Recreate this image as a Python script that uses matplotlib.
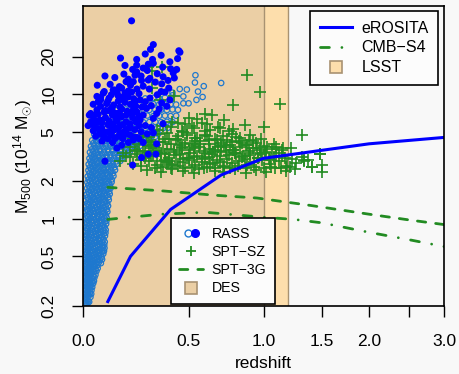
import numpy as np
import matplotlib
matplotlib.use('Agg')
import matplotlib.pyplot as plt
from matplotlib.lines import Line2D
from matplotlib.legend_handler import HandlerTuple
from matplotlib.ticker import NullLocator

plt.rcParams['font.family'] = ['Liberation Sans', 'DejaVu Sans']
plt.rcParams['mathtext.fontset'] = 'custom'
plt.rcParams['mathtext.rm'] = 'Liberation Sans'
plt.rcParams['mathtext.it'] = 'Liberation Sans:italic'

# RASS, open circles (flux-limited band)
rass_open_z = [
    0.005, 0.011, 0.017, 0.024,
    0.004, 0.010, 0.016, 0.022, 0.029,
    0.006, 0.012, 0.019, 0.026, 0.033,
    0.005, 0.011, 0.018, 0.025, 0.032, 0.040,
    0.007, 0.013, 0.020, 0.028, 0.036, 0.045,
    0.005, 0.012, 0.019, 0.027, 0.035, 0.044, 0.053,
    0.007, 0.014, 0.022, 0.030, 0.039, 0.048, 0.058,
    0.006, 0.013, 0.021, 0.029, 0.038, 0.047, 0.057, 0.067, 0.076,
    0.008, 0.016, 0.024, 0.033, 0.042, 0.052, 0.062, 0.072, 0.081,
    0.006, 0.013, 0.021, 0.030, 0.040, 0.050, 0.060, 0.070, 0.079, 0.086,
    0.008, 0.016, 0.025, 0.035, 0.045, 0.055, 0.066, 0.077, 0.087,
    0.006, 0.014, 0.023, 0.033, 0.043, 0.054, 0.065, 0.076, 0.088,
    0.010, 0.018, 0.028, 0.038, 0.049, 0.060, 0.071, 0.082, 0.091,
    0.008, 0.016, 0.026, 0.036, 0.047, 0.058, 0.069, 0.080, 0.093,
    0.011, 0.020, 0.030, 0.041, 0.052, 0.063, 0.075, 0.086, 0.095,
    0.009, 0.018, 0.028, 0.039, 0.050, 0.062, 0.074, 0.086, 0.098,
    0.013, 0.022, 0.032, 0.043, 0.055, 0.067, 0.079, 0.091, 0.101,
    0.012, 0.021, 0.031, 0.042, 0.054, 0.066, 0.078, 0.090, 0.104,
    0.014, 0.024, 0.035, 0.047, 0.059, 0.071, 0.083, 0.096, 0.108,
    0.016, 0.026, 0.037, 0.049, 0.062, 0.075, 0.088, 0.100, 0.112,
    0.017, 0.027, 0.039, 0.052, 0.065, 0.078, 0.091, 0.104, 0.116,
    0.018, 0.029, 0.041, 0.054, 0.068, 0.082, 0.096, 0.110, 0.124,
    0.021, 0.032, 0.045, 0.058, 0.072, 0.086, 0.100, 0.115, 0.131,
    0.022, 0.034, 0.047, 0.061, 0.076, 0.091, 0.106, 0.121, 0.138,
    0.025, 0.037, 0.050, 0.065, 0.080, 0.096, 0.112, 0.128, 0.146, 0.162,
    0.027, 0.040, 0.054, 0.069, 0.085, 0.102, 0.119, 0.137, 0.156, 0.176, 0.196,
    0.031, 0.044, 0.059, 0.075, 0.092, 0.110, 0.128, 0.147, 0.167, 0.190, 0.215, 0.245,
    0.036, 0.050, 0.066, 0.083, 0.101, 0.120, 0.140, 0.160, 0.182, 0.205, 0.230, 0.260, 0.290,
    0.044, 0.060, 0.078, 0.097, 0.117, 0.138, 0.160, 0.183, 0.207, 0.230, 0.255, 0.280, 0.310, 0.335,
    0.055, 0.074, 0.095, 0.117, 0.140, 0.164, 0.189, 0.215, 0.240, 0.270, 0.300, 0.330, 0.360, 0.385,
    0.070, 0.095, 0.120, 0.145, 0.170, 0.200, 0.230, 0.260, 0.290, 0.320, 0.350, 0.380, 0.410,
    0.100, 0.130, 0.160, 0.190, 0.220, 0.250, 0.280, 0.310, 0.340, 0.370, 0.400, 0.430,
    0.140, 0.180, 0.220, 0.260, 0.290, 0.320, 0.350, 0.380, 0.410, 0.440,
    0.200, 0.240, 0.280, 0.310, 0.340, 0.370, 0.400, 0.430, 0.470,
    0.270, 0.310, 0.340, 0.370, 0.410, 0.470, 0.500, 0.546, 0.583,
    0.450, 0.490, 0.537, 0.540, 0.555, 0.590, 0.700, 0.410,
    # in-between rows
    0.008, 0.014, 0.020,
    0.007, 0.013, 0.019, 0.026, 0.032,
    0.009, 0.015, 0.022, 0.029, 0.036,
    0.008, 0.015, 0.022, 0.029, 0.036, 0.043,
    0.010, 0.017, 0.024, 0.032, 0.040, 0.049,
    0.009, 0.016, 0.023, 0.031, 0.040, 0.049, 0.058,
    0.010, 0.018, 0.026, 0.034, 0.043, 0.053, 0.063, 0.071,
    0.010, 0.018, 0.026, 0.035, 0.044, 0.054, 0.064, 0.074,
    0.011, 0.019, 0.028, 0.037, 0.047, 0.057, 0.067, 0.077, 0.084,
    0.010, 0.018, 0.027, 0.036, 0.046, 0.056, 0.066, 0.076, 0.085,
    0.011, 0.020, 0.029, 0.039, 0.049, 0.060, 0.071, 0.082,
    0.009, 0.019, 0.029, 0.039, 0.050, 0.061, 0.072, 0.083, 0.090,
    0.013, 0.022, 0.032, 0.043, 0.054, 0.065, 0.076, 0.087,
    0.012, 0.021, 0.031, 0.042, 0.053, 0.064, 0.075, 0.087, 0.094,
    0.014, 0.024, 0.035, 0.046, 0.057, 0.068, 0.080, 0.092,
    0.016, 0.025, 0.036, 0.048, 0.060, 0.072, 0.085, 0.096,
    0.017, 0.027, 0.038, 0.049, 0.061, 0.073, 0.085, 0.097,
    0.018, 0.029, 0.041, 0.053, 0.065, 0.077, 0.090, 0.102,
    0.020, 0.031, 0.043, 0.055, 0.068, 0.081, 0.094, 0.106,
    0.021, 0.032, 0.044, 0.057, 0.070, 0.083, 0.097, 0.109,
    0.022, 0.034, 0.047, 0.060, 0.073, 0.087, 0.101, 0.117,
    0.025, 0.037, 0.050, 0.064, 0.078, 0.092, 0.107, 0.122,
    0.027, 0.040, 0.053, 0.067, 0.082, 0.097, 0.112, 0.128,
    0.029, 0.042, 0.056, 0.071, 0.087, 0.103, 0.120, 0.137, 0.154,
    0.032, 0.045, 0.060, 0.076, 0.093, 0.110, 0.128, 0.146, 0.166, 0.186,
    0.035, 0.050, 0.066, 0.083, 0.100, 0.119, 0.138, 0.158, 0.180, 0.203, 0.230,
    0.040, 0.056, 0.073, 0.091, 0.110, 0.130, 0.150, 0.171, 0.194, 0.218, 0.245, 0.275,
    0.050, 0.068, 0.087, 0.107, 0.128, 0.150, 0.172, 0.195, 0.219, 0.243, 0.268, 0.295, 0.320,
]
rass_open_m = [
    0.208, 0.213, 0.210, 0.216,
    0.232, 0.238, 0.235, 0.241, 0.236,
    0.262, 0.268, 0.265, 0.271, 0.267,
    0.297, 0.303, 0.300, 0.306, 0.298, 0.304,
    0.332, 0.338, 0.335, 0.341, 0.333, 0.339,
    0.370, 0.378, 0.374, 0.380, 0.372, 0.377, 0.381,
    0.415, 0.423, 0.419, 0.425, 0.417, 0.421, 0.426,
    0.465, 0.472, 0.468, 0.474, 0.466, 0.471, 0.475, 0.469, 0.473,
    0.518, 0.526, 0.521, 0.528, 0.519, 0.524, 0.529, 0.520, 0.525,
    0.580, 0.589, 0.583, 0.591, 0.582, 0.587, 0.592, 0.581, 0.588, 0.584,
    0.645, 0.656, 0.649, 0.658, 0.647, 0.653, 0.659, 0.648, 0.654,
    0.722, 0.733, 0.726, 0.736, 0.724, 0.731, 0.737, 0.725, 0.730,
    0.806, 0.818, 0.810, 0.821, 0.807, 0.815, 0.822, 0.809, 0.816,
    0.902, 0.915, 0.906, 0.918, 0.903, 0.911, 0.919, 0.905, 0.912,
    1.010, 1.025, 1.015, 1.030, 1.012, 1.022, 1.030, 1.014, 1.020,
    1.130, 1.145, 1.135, 1.150, 1.132, 1.142, 1.150, 1.134, 1.140,
    1.260, 1.278, 1.265, 1.282, 1.262, 1.272, 1.280, 1.264, 1.270,
    1.410, 1.430, 1.415, 1.432, 1.412, 1.422, 1.430, 1.414, 1.420,
    1.570, 1.590, 1.575, 1.592, 1.572, 1.582, 1.590, 1.574, 1.580,
    1.760, 1.780, 1.765, 1.782, 1.762, 1.772, 1.780, 1.764, 1.770,
    1.960, 1.985, 1.965, 1.990, 1.962, 1.975, 1.985, 1.966, 1.972,
    2.190, 2.220, 2.200, 2.225, 2.195, 2.210, 2.222, 2.198, 2.206,
    2.450, 2.480, 2.455, 2.485, 2.452, 2.468, 2.480, 2.456, 2.465,
    2.740, 2.770, 2.745, 2.775, 2.742, 2.758, 2.770, 2.746, 2.755,
    3.060, 3.090, 3.065, 3.095, 3.062, 3.078, 3.090, 3.066, 3.075, 3.085,
    3.420, 3.460, 3.430, 3.465, 3.425, 3.445, 3.460, 3.432, 3.440, 3.455, 3.430,
    3.820, 3.860, 3.830, 3.865, 3.825, 3.845, 3.860, 3.832, 3.840, 3.855, 3.830, 3.850,
    4.270, 4.310, 4.280, 4.315, 4.275, 4.295, 4.310, 4.280, 4.290, 4.305, 4.280, 4.300, 4.285,
    4.770, 4.820, 4.780, 4.825, 4.775, 4.800, 4.820, 4.782, 4.790, 4.810, 4.780, 4.800, 4.790, 4.810,
    5.320, 5.380, 5.330, 5.385, 5.325, 5.355, 5.380, 5.335, 5.350, 5.370, 5.340, 5.360, 5.345, 5.370,
    5.950, 6.020, 5.960, 6.030, 5.955, 5.990, 6.020, 5.965, 5.980, 6.000, 5.970, 6.010, 5.975,
    6.660, 6.740, 6.670, 6.750, 6.665, 6.700, 6.740, 6.675, 6.710, 6.730, 6.680, 6.720,
    7.450, 7.550, 7.460, 7.540, 7.470, 7.520, 7.500, 7.460, 7.540, 7.490,
    8.250, 8.360, 8.270, 8.350, 8.280, 8.320, 8.300, 8.260, 8.450,
    9.250, 9.350, 9.280, 9.400, 9.800, 9.600, 8.450, 9.000, 9.500,
    11.00, 10.90, 12.40, 14.20, 10.50, 11.60, 12.30, 10.30,
    # in-between rows
    0.221, 0.224, 0.220,
    0.249, 0.252, 0.248, 0.253, 0.250,
    0.281, 0.285, 0.282, 0.286, 0.283,
    0.315, 0.319, 0.316, 0.320, 0.314, 0.318,
    0.352, 0.357, 0.353, 0.358, 0.351, 0.356,
    0.394, 0.399, 0.395, 0.400, 0.393, 0.397, 0.401,
    0.440, 0.446, 0.442, 0.447, 0.439, 0.444, 0.448, 0.441,
    0.492, 0.498, 0.494, 0.499, 0.491, 0.496, 0.500, 0.493,
    0.549, 0.556, 0.551, 0.557, 0.548, 0.554, 0.558, 0.550, 0.553,
    0.612, 0.620, 0.614, 0.621, 0.611, 0.617, 0.622, 0.613, 0.618,
    0.685, 0.693, 0.687, 0.694, 0.684, 0.690, 0.695, 0.686,
    0.765, 0.775, 0.768, 0.776, 0.764, 0.771, 0.777, 0.766, 0.772,
    0.855, 0.866, 0.858, 0.867, 0.854, 0.861, 0.868, 0.856,
    0.955, 0.967, 0.958, 0.968, 0.954, 0.962, 0.969, 0.956, 0.963,
    1.068, 1.082, 1.071, 1.083, 1.067, 1.076, 1.084, 1.069,
    1.193, 1.208, 1.196, 1.209, 1.192, 1.202, 1.210, 1.194,
    1.332, 1.349, 1.336, 1.350, 1.331, 1.342, 1.351, 1.334,
    1.490, 1.510, 1.494, 1.511, 1.489, 1.501, 1.512, 1.492,
    1.660, 1.682, 1.665, 1.683, 1.659, 1.672, 1.684, 1.662,
    1.860, 1.884, 1.865, 1.885, 1.858, 1.872, 1.886, 1.862,
    2.070, 2.096, 2.075, 2.097, 2.068, 2.084, 2.098, 2.072,
    2.320, 2.348, 2.325, 2.349, 2.318, 2.335, 2.350, 2.322,
    2.590, 2.622, 2.596, 2.623, 2.588, 2.607, 2.624, 2.592,
    2.890, 2.925, 2.896, 2.926, 2.888, 2.908, 2.927, 2.893, 2.915,
    3.240, 3.280, 3.246, 3.281, 3.238, 3.260, 3.282, 3.243, 3.268, 3.252,
    3.620, 3.665, 3.627, 3.666, 3.618, 3.643, 3.667, 3.624, 3.652, 3.634, 3.660,
    4.040, 4.090, 4.048, 4.091, 4.038, 4.066, 4.092, 4.044, 4.075, 4.056, 4.085, 4.050,
    4.520, 4.575, 4.528, 4.576, 4.518, 4.549, 4.577, 4.524, 4.560, 4.538, 4.570, 4.530, 4.555,
]

# SPT-SZ clusters
spt_z = [
    0.28, 0.35, 0.41, 0.47, 0.53, 0.59, 0.66, 0.72, 0.79, 0.87, 0.94, 1.02, 1.09, 1.18, 1.26,
    0.21, 0.25, 0.29, 0.33, 0.37, 0.41, 0.45, 0.50, 0.54, 0.58, 0.63, 0.67, 0.72, 0.77, 0.82,
    0.88, 0.93, 0.99, 1.05, 1.12, 1.19, 1.27, 1.34, 1.41,
    0.20, 0.23, 0.27, 0.31, 0.35, 0.39, 0.43, 0.47, 0.51, 0.55, 0.60, 0.64, 0.69, 0.74, 0.79,
    0.84, 0.90, 0.96, 1.02, 1.08, 1.15, 1.23, 1.32, 1.48,
    0.22, 0.26, 0.30, 0.34, 0.38, 0.42, 0.46, 0.50, 0.54, 0.59, 0.63, 0.68, 0.73, 0.78, 0.83,
    0.89, 0.95, 1.01, 1.07, 1.15, 1.22,
    0.24, 0.28, 0.32, 0.36, 0.40, 0.44, 0.48, 0.53, 0.57, 0.62, 0.67, 0.72, 0.77, 0.82, 0.88,
    0.94, 1.00, 1.08,
    0.29, 0.34, 0.39, 0.44, 0.49, 0.54, 0.60, 0.66, 0.71, 0.77, 0.83, 0.90,
    0.33, 0.40, 0.47, 0.53, 0.60, 0.68, 0.75, 0.86, 1.00,
    0.31, 0.37, 0.43, 0.49, 0.56, 0.62, 0.70, 0.76, 0.85, 0.92, 0.98,
    0.27, 0.35, 0.45, 0.52, 0.58, 0.66, 0.74, 0.80, 0.87, 1.04, 1.12,
    0.26, 0.30, 0.34, 0.38, 0.42, 0.46, 0.50, 0.55, 0.60, 0.65, 0.70, 0.75, 0.80, 0.86, 0.92,
    0.98, 1.05,
    0.25, 0.29, 0.33, 0.37, 0.41, 0.45, 0.49, 0.53, 0.57, 0.61, 0.65, 0.69, 0.73, 0.78, 0.84,
    0.90, 0.96, 1.03, 1.10,
    0.32, 0.36, 0.40, 0.44, 0.48, 0.52, 0.56, 0.61, 0.66, 0.71, 0.76, 0.81, 0.87, 0.93, 1.00,
    1.06, 1.14, 1.21,
    0.23, 0.30, 0.39, 0.46, 0.54, 0.62, 0.70, 0.79, 0.89, 0.97, 1.10, 1.17,
    0.36, 0.44, 0.52, 0.61, 0.69, 0.78, 0.55, 0.63, 0.48, 0.38,
    0.41, 0.50, 0.58, 0.64, 0.72, 0.597, 0.781, 1.13, 0.973, 0.874, 1.315,
    0.285, 0.353, 0.302, 0.416, 0.345, 0.303,
    1.155, 1.18, 1.375, 1.41, 1.50, 1.50, 1.48, 1.34,
    0.153, 0.167, 0.198, 0.18, 0.21,
]
spt_m = [
    2.45, 2.36, 2.52, 2.41, 2.33, 2.55, 2.43, 2.37, 2.50, 2.34, 2.47, 2.39, 2.56, 2.42, 2.50,
    2.78, 2.65, 2.90, 2.72, 2.96, 2.68, 2.84, 2.98, 2.70, 2.88, 2.75, 2.95, 2.66, 2.82, 2.93,
    2.71, 2.86, 2.99, 2.74, 2.90, 2.67, 2.83, 2.97, 2.62,
    3.15, 3.32, 3.05, 3.25, 3.38, 3.10, 3.28, 3.02, 3.36, 3.18, 3.06, 3.30, 3.20, 3.04, 3.35,
    3.12, 3.26, 3.08, 3.37, 3.14, 3.22, 3.03, 3.12, 3.30,
    3.60, 3.45, 3.72, 3.52, 3.66, 3.42, 3.78, 3.55, 3.70, 3.48, 3.63, 3.76, 3.44, 3.58, 3.74,
    3.50, 3.68, 3.46, 3.62, 3.56, 3.70,
    4.00, 4.22, 3.88, 4.12, 3.95, 4.26, 4.05, 3.85, 4.18, 3.98, 4.28, 3.90, 4.10, 4.20, 3.93,
    4.08, 3.86, 4.02,
    4.50, 4.78, 4.40, 4.65, 4.85, 4.45, 4.70, 4.36, 4.60, 4.82, 4.48, 4.68,
    5.20, 5.45, 5.00, 5.35, 5.10, 5.50, 5.05, 5.66, 5.50,
    3.90, 3.30, 4.40, 3.10, 3.80, 4.30, 3.50, 3.90, 3.20, 3.70, 4.40,
    3.50, 2.90, 3.30, 4.00, 3.00, 3.60, 4.30, 3.30, 3.90, 3.00, 3.40,
    4.60, 3.20, 4.10, 2.85, 3.55, 5.10, 3.05, 4.45, 3.35, 2.80, 4.05, 3.25, 4.55, 3.00, 4.20,
    3.30, 2.95,
    2.95, 3.85, 3.40, 4.35, 2.75, 3.90, 4.70, 3.15, 3.95, 4.60, 3.45, 2.88, 3.80, 3.60, 4.05,
    3.40, 3.05, 3.75, 3.20,
    2.58, 2.62, 2.55, 2.64, 2.57, 2.61, 2.53, 2.63, 2.56, 2.60, 2.54, 2.65, 2.58, 2.62, 2.55,
    2.60, 2.57, 2.63,
    3.48, 4.15, 2.92, 3.68, 4.25, 3.15, 3.85, 3.35, 4.30, 3.55, 3.80, 3.10,
    5.60, 5.90, 5.55, 5.80, 5.35, 5.25, 6.30, 5.15, 5.75, 4.90,
    6.00, 6.40, 5.90, 6.80, 6.20, 7.00, 8.20, 8.30, 10.5, 14.2, 4.70,
    16.6, 16.6, 11.2, 9.70, 9.00, 15.4,
    3.70, 2.60, 2.97, 2.60, 2.38, 2.71, 3.30, 2.90,
    2.90, 3.40, 3.80, 3.20, 4.40,
]

# RASS, filled circles
rass_fill_z = [
    0.205, 0.296, 0.445, 0.451, 0.229, 0.306, 0.438, 0.229, 0.285, 0.310, 0.396, 0.358,
    0.433, 0.229, 0.414, 0.221, 0.088, 0.293, 0.386, 0.0565, 0.180, 0.213, 0.252, 0.285,
    0.353, 0.123, 0.081, 0.070, 0.167, 0.245, 0.293, 0.353, 0.396, 0.0245, 0.054, 0.117,
    0.153, 0.213, 0.276, 0.327, 0.0675, 0.123, 0.198, 0.245, 0.310, 0.360, 0.081, 0.153,
    0.229, 0.310, 0.213, 0.327, 0.252, 0.285, 0.323, 0.088, 0.210, 0.139, 0.0757,
    0.045, 0.060, 0.075, 0.090, 0.100, 0.110, 0.120, 0.130, 0.140, 0.150, 0.160, 0.170,
    0.180, 0.190, 0.200, 0.210, 0.220, 0.230, 0.240, 0.260, 0.050, 0.065, 0.085, 0.100,
    0.115, 0.130, 0.145, 0.165, 0.185, 0.035, 0.040, 0.055, 0.070, 0.085, 0.095, 0.105,
    0.125, 0.135, 0.145, 0.160, 0.175, 0.185, 0.200, 0.215, 0.225, 0.240, 0.255, 0.270,
    0.140, 0.160, 0.190, 0.200, 0.230, 0.260, 0.105, 0.060, 0.030, 0.020, 0.040, 0.120,
    0.160, 0.190, 0.250, 0.270, 0.300, 0.300, 0.330, 0.340, 0.370, 0.380, 0.390, 0.280,
    0.330, 0.360, 0.260, 0.400, 0.420, 0.350, 0.270, 0.310,
    0.030, 0.045, 0.060, 0.075, 0.090, 0.105, 0.120, 0.135, 0.150, 0.165, 0.180, 0.195,
    0.210, 0.225, 0.240,
    0.040, 0.055, 0.070, 0.085, 0.100, 0.115, 0.130, 0.145, 0.160, 0.175, 0.190, 0.205, 0.220,
    0.060, 0.080, 0.100, 0.120, 0.140, 0.160, 0.180, 0.200, 0.220, 0.240, 0.260, 0.280,
    0.110, 0.130, 0.150, 0.170, 0.190, 0.210, 0.250, 0.290, 0.320, 0.350, 0.175, 0.155,
]
rass_fill_m = [
    38.8, 22.9, 22.3, 21.7, 19.0, 19.0, 19.3, 17.1, 17.4, 17.7, 18.2, 16.5,
    15.8, 15.1, 14.8, 14.2, 14.0, 13.4, 12.9, 11.8, 12.6, 12.6, 12.9, 13.0,
    12.1, 10.8, 10.2, 9.40, 9.50, 9.00, 9.30, 8.50, 9.00, 6.80, 7.00, 7.80,
    7.90, 7.50, 7.70, 7.00, 6.20, 5.80, 5.80, 6.20, 6.40, 5.80, 5.00, 4.90,
    4.50, 4.90, 4.30, 4.00, 3.10, 3.30, 3.30, 2.90, 2.70, 3.70, 4.20,
    5.50, 6.00, 5.30, 6.50, 5.00, 5.60, 6.80, 5.20, 6.10, 5.50, 6.60, 5.00,
    6.00, 7.00, 5.40, 6.50, 5.20, 7.20, 5.60, 6.80, 4.60, 4.80, 4.50, 4.40,
    4.70, 4.40, 4.60, 4.40, 4.80, 5.90, 6.60, 7.50, 8.00, 7.20, 8.40, 7.40,
    8.20, 7.00, 8.80, 7.60, 8.60, 7.30, 8.30, 9.20, 8.00, 10.1, 7.90, 8.70,
    10.3, 11.2, 10.6, 11.8, 11.0, 11.6, 9.30, 8.70, 6.00, 5.60, 5.10, 4.10,
    3.90, 4.10, 5.00, 5.60, 5.40, 8.10, 9.90, 7.60, 10.4, 8.00, 11.2, 15.5,
    14.6, 13.8, 16.2, 16.0, 13.5, 20.5, 21.0, 25.0,
    7.00, 6.20, 6.90, 5.90, 7.40, 6.10, 7.30, 6.40, 7.10, 5.70, 6.80, 5.40,
    7.00, 6.00, 6.60,
    8.30, 9.60, 9.00, 10.5, 8.80, 9.90, 10.8, 9.70, 9.10, 10.2, 9.50, 10.4, 8.50,
    5.30, 4.70, 5.70, 5.10, 5.30, 4.60, 5.20, 4.70, 4.50, 4.40, 4.10, 4.80,
    12.0, 13.6, 11.5, 14.5, 13.2, 15.8, 14.0, 11.0, 12.5, 10.5, 17.0, 19.5,
]

# survey limit curves
erosita_z = [0.1, 0.2, 0.4, 0.7, 1.0, 2.0, 3.0]
erosita_m = [0.217, 0.50, 1.19, 2.25, 3.06, 4.0, 4.5]
spt3g_z = [0.1, 0.35, 0.65, 0.95, 1.4, 2.0, 2.5, 3.0]
spt3g_m = [1.79, 1.68, 1.55, 1.47, 1.28, 1.09, 0.98, 0.90]
cmbs4_z = [0.1, 0.35, 0.6, 1.0, 1.25, 1.5, 2.0, 2.5, 3.0]
cmbs4_m = [0.99, 1.09, 1.13, 1.03, 0.99, 0.93, 0.78, 0.68, 0.60]

# optical survey depth
des_zmax = 1.0
lsst_zmax = 1.2

xtick_vals = [0, 0.5, 1.0, 1.5, 2.0, 2.5, 3.0]
xtick_labels = ['0.0', '0.5', '1.0', '1.5', '2.0', '', '3.0']
ytick_vals = [0.2, 0.5, 1, 2, 5, 10, 20]
ytick_labels = ['0.2', '0.5', '1', '2', '5', '10', '20']

bg = '#f8f8f8'
des_col = '#ebcfa5'
lsst_col = '#fddeac'
band_edge = '#a89272'
light_blue = '#1e78cf'
green = '#228b22'

fig = plt.figure(figsize=(4.59, 3.74), dpi=100, facecolor=bg)
ax = fig.add_axes([83 / 459, 68 / 374, 361 / 459, 300 / 374])
ax.set_facecolor(bg)
ax.set_xscale('function', functions=(lambda z: np.log10(1 + z), lambda u: 10 ** u - 1))
ax.set_yscale('log')

ax.axvspan(0, lsst_zmax, color=lsst_col, lw=0, zorder=0)
ax.axvspan(0, des_zmax, color=des_col, lw=0, zorder=0.1)
ax.axvline(des_zmax, color=band_edge, lw=1.0, zorder=0.2)
ax.axvline(lsst_zmax, color=band_edge, lw=1.0, zorder=0.2)

ax.scatter(rass_open_z, rass_open_m, s=15, facecolors='none', edgecolors=light_blue,
           linewidths=0.9, zorder=2)
ax.scatter(spt_z, spt_m, s=70, marker='+', c=green, linewidths=1.2, zorder=3)
ax.scatter(rass_fill_z, rass_fill_m, s=26, c='#0000ff', edgecolors='none', zorder=4)

ax.plot(erosita_z, erosita_m, color='#0000ff', lw=2.2, zorder=5)
ax.plot(spt3g_z, spt3g_m, color=green, lw=2.0, dashes=(3, 3.6),
        dash_capstyle='round', zorder=5)
ax.plot(cmbs4_z, cmbs4_m, color=green, lw=2.0, dashes=(3.2, 4.5, 0.01, 4.5),
        dash_capstyle='round', zorder=5)

ax.set_xlim(0, 3)
ax.set_ylim(0.2, 51)
ax.set_xticks(xtick_vals, xtick_labels)
ax.set_yticks(ytick_vals, ytick_labels, rotation=90, va='center')
ax.xaxis.set_minor_locator(NullLocator())
ax.yaxis.set_minor_locator(NullLocator())
ax.tick_params(axis='both', direction='out', length=8, width=1.0, colors='black', labelsize=12.5)
ax.tick_params(axis='x', pad=12)
ax.tick_params(axis='y', pad=11)
for sp in ax.spines.values():
    sp.set_linewidth(1.2)
    sp.set_zorder(6)

ax.set_xlabel('redshift', fontsize=12.5)
ax.xaxis.set_label_coords(0.5, -0.165)
ax.set_ylabel(r'M$_{500}$ (10$^{14}$ M$_{\odot}$)', fontsize=12.5)
ax.yaxis.set_label_coords(-0.135, 0.5)

# top-right legend
h_er = Line2D([], [], color='#0000ff', lw=2.2)
h_cmb = Line2D([], [], color=green, lw=2.0, dashes=(3.2, 4.5, 0.01, 4.5), dash_capstyle='round')
h_lsst = Line2D([], [], ls='none', marker='s', markersize=8, markerfacecolor=lsst_col,
                markeredgecolor=band_edge, markeredgewidth=1.2)
leg1 = ax.legend([h_er, h_cmb, h_lsst], ['eROSITA', 'CMB\u2212S4', 'LSST'],
                 loc='upper right', bbox_to_anchor=(0.984, 0.983), borderaxespad=0,
                 fontsize=11.5, fancybox=False, edgecolor='black', facecolor='#fcfcfc',
                 framealpha=1, handlelength=2.0, handletextpad=0.6, labelspacing=0.3,
                 borderpad=0.6)
leg1.get_frame().set_linewidth(1.2)
leg1.set_zorder(7)
ax.add_artist(leg1)

# bottom legend
h_ro = Line2D([], [], ls='none', marker='o', markersize=5, markerfacecolor='none',
              markeredgecolor=light_blue, markeredgewidth=1.0)
h_rf = Line2D([], [], ls='none', marker='o', markersize=5.5, markerfacecolor='#0000ff',
              markeredgecolor='#0000ff')
h_spt = Line2D([], [], ls='none', marker='+', markersize=7, markeredgecolor=green,
               markeredgewidth=1.3)
h_3g = Line2D([], [], color=green, lw=2.0, dashes=(3, 3.6), dash_capstyle='round')
h_des = Line2D([], [], ls='none', marker='s', markersize=8, markerfacecolor=des_col,
               markeredgecolor=band_edge, markeredgewidth=1.2)
leg2 = ax.legend([(h_ro, h_rf), h_spt, h_3g, h_des], ['RASS', 'SPT\u2212SZ', 'SPT\u22123G', 'DES'],
                 handler_map={tuple: HandlerTuple(ndivide=None, pad=-0.7)},
                 loc='lower left', bbox_to_anchor=(0.243, 0.0067), borderaxespad=0,
                 fontsize=10.2, fancybox=False, edgecolor='black', facecolor='#fcfcfc',
                 framealpha=1, handlelength=1.7, handletextpad=0.6, labelspacing=0.3,
                 borderpad=0.6)
leg2.get_frame().set_linewidth(1.2)
leg2.set_zorder(7)

fig.savefig('out.png', dpi=100, facecolor=bg)
